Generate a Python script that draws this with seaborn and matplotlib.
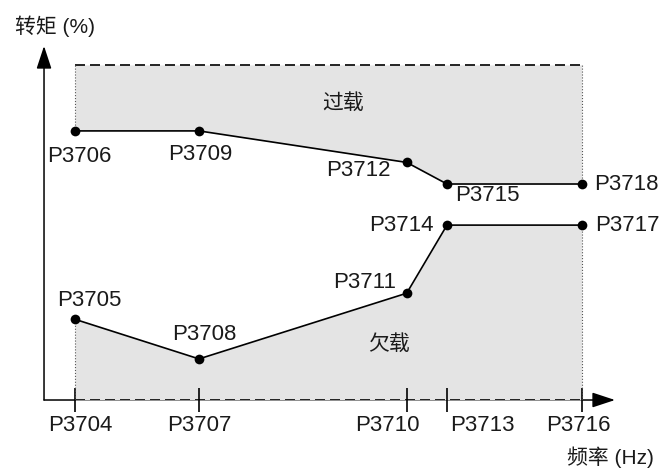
import matplotlib
matplotlib.use('Agg')
import matplotlib.pyplot as plt
import numpy as np
import pandas as pd
import seaborn as sns

# 数据
freq = [1.0, 5.0, 11.7, 13.0, 17.35]          # 频率点
freq_labels = ['P3704', 'P3707', 'P3710', 'P3713', 'P3716']
upper = [89.7, 89.7, 79.2, 72.0, 72.0]        # 过载阈值
upper_labels = ['P3706', 'P3709', 'P3712', 'P3715', 'P3718']
lower = [26.9, 13.7, 35.6, 58.3, 58.3]        # 欠载阈值
lower_labels = ['P3705', 'P3708', 'P3711', 'P3714', 'P3717']
top_limit = 111.7

sns.set_theme(style='white')
plt.rcParams['font.family'] = ['Liberation Sans', 'Noto Sans CJK SC', 'DejaVu Sans']
txt_color = '#1a1a1a'
fill_color = '#e4e4e4'

fig = plt.figure(figsize=(6.62, 4.69), dpi=100)
ax = fig.add_axes([0.0665, 0.1471, 0.8625, 0.7548])
ax.set_xlim(0, 18.42)
ax.set_ylim(0, 118)
for s in ax.spines.values():
    s.set_visible(False)

# 坐标轴箭头
arrow = dict(arrowstyle='-|>,head_length=1.0,head_width=0.33', color='black',
             lw=1.1, shrinkA=0, shrinkB=0, mutation_scale=14)
ax.annotate('', xy=(1, 0), xytext=(0, 0), xycoords='axes fraction',
            arrowprops=arrow, zorder=1, annotation_clip=False)
ax.annotate('', xy=(0, 1), xytext=(0, 0), xycoords='axes fraction',
            arrowprops=arrow, zorder=1, annotation_clip=False)

# 阴影区
ax.fill_between(freq, upper, top_limit, color=fill_color, lw=0, zorder=2)
ax.fill_between(freq, 0, lower, color=fill_color, lw=0, zorder=2)
ax.plot([freq[0], freq[-1]], [top_limit, top_limit], color='black', lw=1.2,
        dashes=(6, 3), zorder=3)
ax.plot([freq[0], freq[-1]], [0, 0], color='black', lw=1.2, dashes=(6, 3), zorder=3)
dot = dict(color='#555555', lw=0.8, ls=':', zorder=3)
ax.plot([freq[0], freq[0]], [upper[0], top_limit], **dot)
ax.plot([freq[-1], freq[-1]], [upper[-1], top_limit], **dot)
ax.plot([freq[0], freq[0]], [0, lower[0]], **dot)
ax.plot([freq[-1], freq[-1]], [0, lower[-1]], **dot)

# 曲线
df = pd.DataFrame({'f': freq, 'upper': upper, 'lower': lower})
for col in ['upper', 'lower']:
    sns.lineplot(data=df, x='f', y=col, marker='o', color='black', markersize=7,
                 markeredgewidth=0, linewidth=1.2, sort=False, ax=ax, zorder=4)
ax.set_xlabel('')
ax.set_ylabel('')

# 刻度
ax.set_axisbelow(False)
ax.set_xticks(freq, labels=[''] * len(freq))
ax.set_yticks([])
ax.tick_params(axis='x', direction='inout', length=17, width=1.2, color='black', bottom=True)

px = 0.72  # 像素 -> 点
tick_off = [(5, -25), (0, -25), (-19, -25), (35, -25), (-3, -25)]
for x, lab, (dx, dy) in zip(freq, freq_labels, tick_off):
    ax.annotate(lab, (x, 0), xytext=(dx * px, dy * px), textcoords='offset points',
                ha='center', va='center', fontsize=16, color=txt_color, annotation_clip=False)

up_off = [(4, -26), (1, -24), (-48, -8), (40, -11), (45, 0)]
for x, y, lab, (dx, dy) in zip(freq, upper, upper_labels, up_off):
    ax.annotate(lab, (x, y), xytext=(dx * px, dy * px), textcoords='offset points',
                ha='center', va='center', fontsize=16, color=txt_color, annotation_clip=False)

low_off = [(14, 19), (5, 24), (-42, 11), (-46, 0), (46, 0)]
for x, y, lab, (dx, dy) in zip(freq, lower, lower_labels, low_off):
    ax.annotate(lab, (x, y), xytext=(dx * px, dy * px), textcoords='offset points',
                ha='center', va='center', fontsize=16, color=txt_color, annotation_clip=False)

ax.text(9.65, 99, '过载', ha='center', va='center', fontsize=15, color=txt_color, zorder=5)
ax.text(11.13, 18.7, '欠载', ha='center', va='center', fontsize=15, color=txt_color, zorder=5)

fig.text(55 / 662, 1 - 26 / 469, '转矩 (%)', ha='center', va='center', fontsize=15, color=txt_color)
fig.text(610 / 662, 1 - 457 / 469, '频率 (Hz)', ha='center', va='center', fontsize=15, color=txt_color)

fig.savefig('out.png', dpi=100)
